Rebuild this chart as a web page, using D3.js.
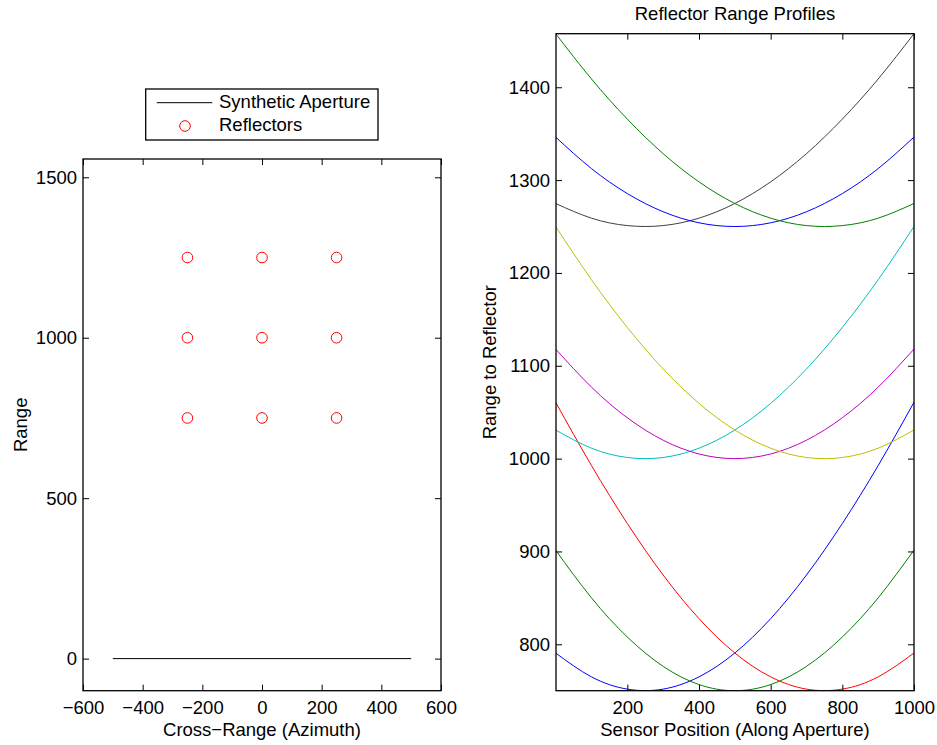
<!DOCTYPE html>
<html>
<head>
<meta charset="utf-8">
<script src="https://cdn.jsdelivr.net/npm/d3@7"></script>
<style>
  body { margin: 0; background: #fff; }
  text { font-family: "Liberation Sans", Arial, Helvetica, sans-serif; font-size: 18.5px; fill: #000; }
  .axis path { display: none; }
  .axis line { stroke: #000; stroke-width: 1; }
</style>
</head>
<body>
<div id="chart"></div>
<script>
// left plot: geometry
var apertureX = [-500, 500];
var apertureY = [0, 0];
var reflX = [-250, 0, 250, -250, 0, 250, -250, 0, 250];
var reflY = [750, 750, 750, 1000, 1000, 1000, 1250, 1250, 1250];

// right plot: range to each reflector vs sensor position
var sensorPos = [0, 100, 200, 300, 400, 500, 600, 700, 800, 900, 1000];
var near250 = [790.6, 764.9, 751.7, 751.7, 764.9, 790.6, 827.6, 874.6, 930.1, 992.5, 1060.7];
var near500 = [901.4, 850.0, 807.8, 776.2, 756.6, 750.0, 756.6, 776.2, 807.8, 850.0, 901.4];
var near750 = [1060.7, 992.5, 930.1, 874.6, 827.6, 790.6, 764.9, 751.7, 751.7, 764.9, 790.6];
var mid250 = [1030.8, 1011.2, 1001.2, 1001.2, 1011.2, 1030.8, 1059.5, 1096.6, 1141.3, 1192.7, 1250.0];
var mid500 = [1118.0, 1077.0, 1044.0, 1019.8, 1005.0, 1000.0, 1005.0, 1019.8, 1044.0, 1077.0, 1118.0];
var mid750 = [1250.0, 1192.7, 1141.3, 1096.6, 1059.5, 1030.8, 1011.2, 1001.2, 1001.2, 1011.2, 1030.8];
var far250 = [1274.8, 1259.0, 1251.0, 1251.0, 1259.0, 1274.8, 1298.1, 1328.5, 1365.7, 1408.9, 1457.7];
var far500 = [1346.3, 1312.4, 1285.5, 1265.9, 1254.0, 1250.0, 1254.0, 1265.9, 1285.5, 1312.4, 1346.3];
var far750 = [1457.7, 1408.9, 1365.7, 1328.5, 1298.1, 1274.8, 1259.0, 1251.0, 1251.0, 1259.0, 1274.8];
var profiles = [near250, near500, near750, mid250, mid500, mid750, far250, far500, far750];
var lineColors = ["#0000ff", "#008000", "#ff0000", "#00bfbf", "#bf00bf", "#bfbf00", "#404040", "#0000ff", "#008000"];

var leftTicksX = [-600, -400, -200, 0, 200, 400, 600];
var leftTicksY = [0, 500, 1000, 1500];
var rightTicksX = [200, 400, 600, 800, 1000];
var rightTicksY = [800, 900, 1000, 1100, 1200, 1300, 1400];

var svg = d3.select("#chart").append("svg")
  .attr("width", 937)
  .attr("height", 745);

// helper to draw a MATLAB style box with inward ticks on all four sides
function drawBox(g, x, y, w, h, tx, ty) {
  g.append("g").attr("class", "axis")
    .attr("transform", `translate(0, ${h})`)
    .call(d3.axisBottom(x).tickValues(tx).tickSizeInner(-6).tickSizeOuter(0).tickPadding(10.4).tickFormat(d3.format("d")));
  g.append("g").attr("class", "axis")
    .call(d3.axisTop(x).tickValues(tx).tickSizeInner(-6).tickSizeOuter(0).tickFormat(""));
  g.append("g").attr("class", "axis")
    .call(d3.axisLeft(y).tickValues(ty).tickSizeInner(-6).tickSizeOuter(0).tickPadding(6).tickFormat(d3.format("d")));
  g.append("g").attr("class", "axis")
    .attr("transform", `translate(${w}, 0)`)
    .call(d3.axisRight(y).tickValues(ty).tickSizeInner(-6).tickSizeOuter(0).tickFormat(""));
  g.selectAll(".axis text").style("font-size", "18.5px").attr("fill", "#000");
  g.append("rect")
    .attr("width", w).attr("height", h)
    .attr("fill", "none").attr("stroke", "#000").attr("stroke-width", 1.3);
}

// ---------- left plot ----------
var L = { left: 83, top: 159, width: 358, height: 531.7 };
var gL = svg.append("g").attr("transform", `translate(${L.left}, ${L.top})`);
var xL = d3.scaleLinear().domain([-600, 600]).range([0, L.width]);
var yL = d3.scaleLinear().domain([-100, 1557]).range([L.height, 0]);

drawBox(gL, xL, yL, L.width, L.height, leftTicksX, leftTicksY);

gL.append("path")
  .datum(d3.zip(apertureX, apertureY))
  .attr("fill", "none").attr("stroke", "#000").attr("stroke-width", 1)
  .attr("d", d3.line().x(d => xL(d[0])).y(d => yL(d[1])));

gL.selectAll("circle.refl")
  .data(d3.zip(reflX, reflY))
  .enter().append("circle")
  .attr("class", "refl")
  .attr("cx", d => xL(d[0]))
  .attr("cy", d => yL(d[1]))
  .attr("r", 5.3)
  .attr("fill", "none").attr("stroke", "#ff0000").attr("stroke-width", 1);

gL.append("text")
  .attr("x", L.width / 2).attr("y", 736)
  .attr("transform", `translate(0, ${-L.top})`)
  .attr("text-anchor", "middle")
  .text("Cross\u2212Range (Azimuth)");

svg.append("text")
  .attr("transform", `translate(26.5, ${L.top + L.height / 2}) rotate(-90)`)
  .attr("text-anchor", "middle")
  .text("Range");

// legend
var leg = svg.append("g");
leg.append("rect")
  .attr("x", 145.7).attr("y", 89).attr("width", 232.3).attr("height", 51)
  .attr("fill", "#fff").attr("stroke", "#000").attr("stroke-width", 1.3);
leg.append("line")
  .attr("x1", 156.7).attr("x2", 212.3).attr("y1", 102.7).attr("y2", 102.7)
  .attr("stroke", "#000").attr("stroke-width", 1);
leg.append("text").attr("x", 219).attr("y", 108.3).text("Synthetic Aperture");
leg.append("circle")
  .attr("cx", 185).attr("cy", 126).attr("r", 5.3)
  .attr("fill", "none").attr("stroke", "#ff0000").attr("stroke-width", 1);
leg.append("text").attr("x", 219).attr("y", 131).text("Reflectors");

// ---------- right plot ----------
var R = { left: 556, top: 33.7, width: 358, height: 657 };
var gR = svg.append("g").attr("transform", `translate(${R.left}, ${R.top})`);
var xR = d3.scaleLinear().domain([1, 1000]).range([0, R.width]);
var yR = d3.scaleLinear().domain([750, 1457.7]).range([R.height, 0]);

svg.append("defs").append("clipPath").attr("id", "clipR")
  .append("rect").attr("width", R.width).attr("height", R.height);

var line = d3.line()
  .x((d, i) => xR(sensorPos[i]))
  .y(d => yR(d))
  .curve(d3.curveNatural);

gR.append("g").attr("clip-path", "url(#clipR)")
  .selectAll("path")
  .data(profiles)
  .enter().append("path")
  .attr("fill", "none")
  .attr("stroke", (d, i) => lineColors[i])
  .attr("stroke-width", 1)
  .attr("d", line);

drawBox(gR, xR, yR, R.width, R.height, rightTicksX, rightTicksY);

svg.append("text")
  .attr("x", R.left + R.width / 2).attr("y", 19.5)
  .attr("text-anchor", "middle")
  .text("Reflector Range Profiles");

svg.append("text")
  .attr("x", R.left + R.width / 2).attr("y", 736)
  .attr("text-anchor", "middle")
  .text("Sensor Position (Along Aperture)");

svg.append("text")
  .attr("transform", `translate(496, ${R.top + R.height / 2}) rotate(-90)`)
  .attr("text-anchor", "middle")
  .text("Range to Reflector");
</script>
</body>
</html>
